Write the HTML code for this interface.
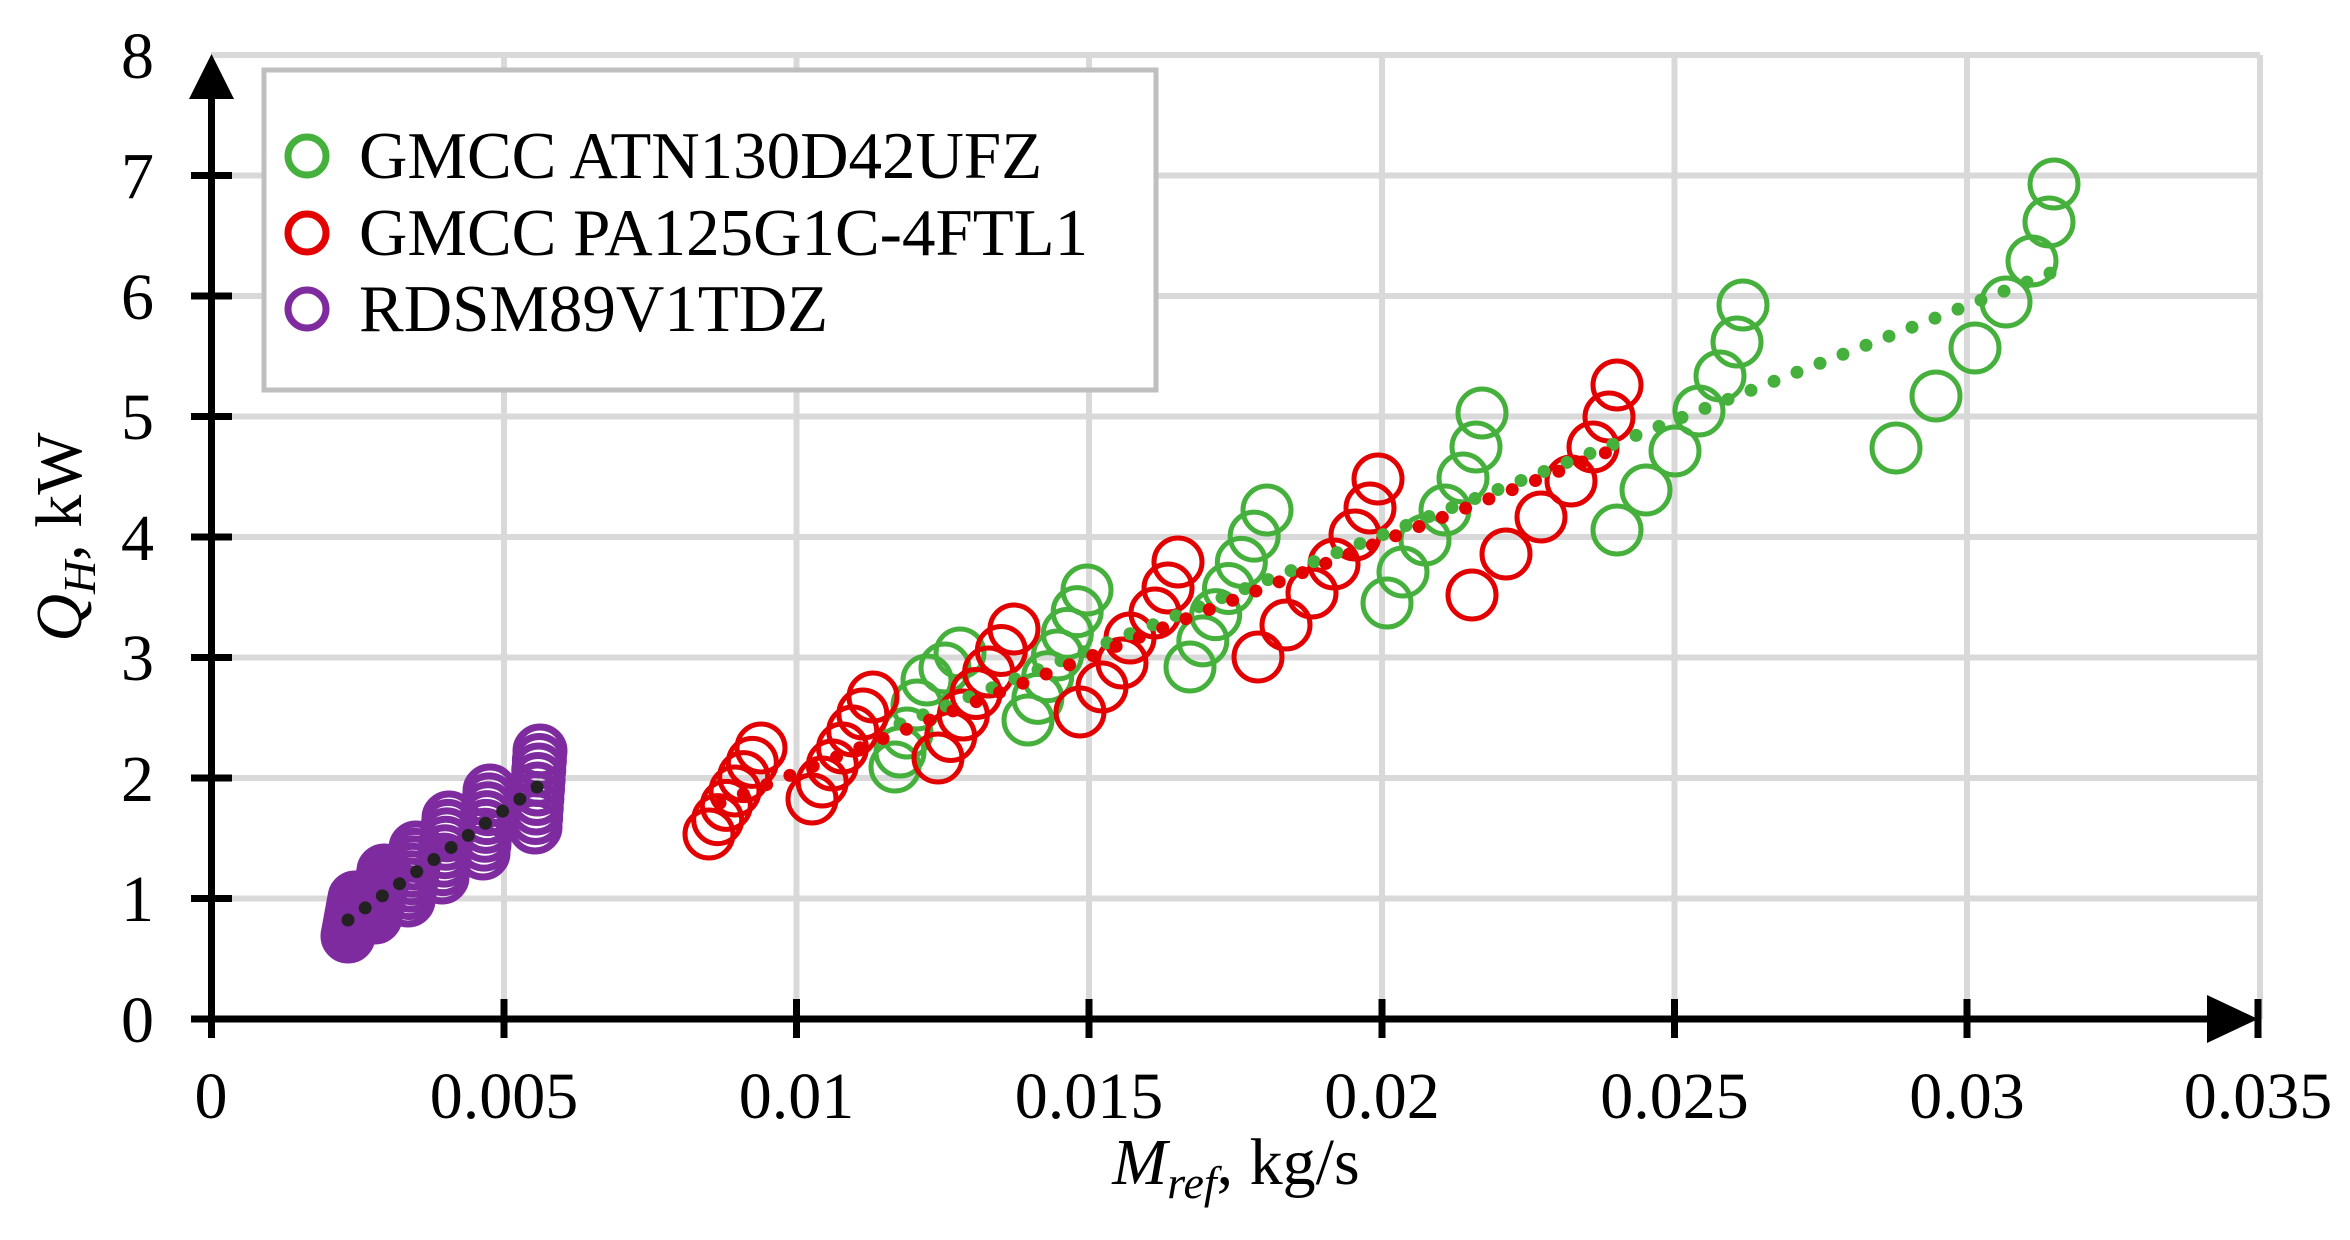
<!DOCTYPE html>
<html><head><meta charset="utf-8"><style>
html,body{margin:0;padding:0;background:#fff;}
svg{display:block;}
text{font-family:"Liberation Serif",serif;fill:#000;}
</style></head><body>
<svg id="s" width="2350" height="1240" viewBox="0 0 2350 1240" xmlns="http://www.w3.org/2000/svg">
<rect width="2350" height="1240" fill="#fff"/>
<g stroke="#d9d9d9" stroke-width="6" fill="none">
<line x1="211" y1="55" x2="2260" y2="55"/>
<line x1="211" y1="175.5" x2="2260" y2="175.5"/>
<line x1="211" y1="296" x2="2260" y2="296"/>
<line x1="211" y1="416.5" x2="2260" y2="416.5"/>
<line x1="211" y1="537" x2="2260" y2="537"/>
<line x1="211" y1="657.5" x2="2260" y2="657.5"/>
<line x1="211" y1="778" x2="2260" y2="778"/>
<line x1="211" y1="898.5" x2="2260" y2="898.5"/>
<line x1="504" y1="55" x2="504" y2="1019"/>
<line x1="796.5" y1="55" x2="796.5" y2="1019"/>
<line x1="1089" y1="55" x2="1089" y2="1019"/>
<line x1="1382" y1="55" x2="1382" y2="1019"/>
<line x1="1674.5" y1="55" x2="1674.5" y2="1019"/>
<line x1="1967" y1="55" x2="1967" y2="1019"/>
<line x1="2260" y1="55" x2="2260" y2="1019"/>
</g>
<g id="data"></g>
<rect x="264" y="70" width="892" height="320" fill="#fff" stroke="#bfbfbf" stroke-width="5"/>
<circle cx="307" cy="156" r="19" fill="none" stroke="#45B03C" stroke-width="7"/>
<circle cx="307" cy="233" r="19" fill="none" stroke="#E30000" stroke-width="7"/>
<circle cx="307" cy="309" r="19" fill="none" stroke="#7F2BA0" stroke-width="7"/>
<text x="359" y="178" font-size="67">GMCC ATN130D42UFZ</text>
<text x="359" y="255" font-size="67">GMCC PA125G1C-4FTL1</text>
<text x="359" y="331" font-size="67">RDSM89V1TDZ</text>
<g stroke="#000" stroke-width="7">
<line x1="211.5" y1="97" x2="211.5" y2="1038"/>
<line x1="191" y1="1019" x2="2215" y2="1019"/>
<line x1="191" y1="175.5" x2="232" y2="175.5"/>
<line x1="191" y1="296" x2="232" y2="296"/>
<line x1="191" y1="416.5" x2="232" y2="416.5"/>
<line x1="191" y1="537" x2="232" y2="537"/>
<line x1="191" y1="657.5" x2="232" y2="657.5"/>
<line x1="191" y1="778" x2="232" y2="778"/>
<line x1="191" y1="898.5" x2="232" y2="898.5"/>
<line x1="504" y1="999" x2="504" y2="1038"/>
<line x1="796.5" y1="999" x2="796.5" y2="1038"/>
<line x1="1089" y1="999" x2="1089" y2="1038"/>
<line x1="1382" y1="999" x2="1382" y2="1038"/>
<line x1="1674.5" y1="999" x2="1674.5" y2="1038"/>
<line x1="1967" y1="999" x2="1967" y2="1038"/>
<line x1="2258" y1="999" x2="2258" y2="1038"/>
</g>
<polygon points="189,99 234,99 211.5,54" fill="#000"/>
<polygon points="2207,995 2207,1043 2258,1019" fill="#000"/>
<g font-size="66" text-anchor="end">
<text x="154" y="1042">0</text>
<text x="154" y="921">1</text>
<text x="154" y="801">2</text>
<text x="154" y="680">3</text>
<text x="154" y="560">4</text>
<text x="154" y="439">5</text>
<text x="154" y="319">6</text>
<text x="154" y="198">7</text>
<text x="154" y="78">8</text>
</g>
<g font-size="66" text-anchor="middle">
<text x="211" y="1118">0</text>
<text x="504" y="1118">0.005</text>
<text x="796.5" y="1118">0.01</text>
<text x="1089" y="1118">0.015</text>
<text x="1382" y="1118">0.02</text>
<text x="1674.5" y="1118">0.025</text>
<text x="1967" y="1118">0.03</text>
<text x="2258" y="1118">0.035</text>
</g>
<text font-size="66" text-anchor="middle" transform="translate(81,537) rotate(-90)"><tspan font-style="italic">Q</tspan><tspan font-style="italic" font-size="46" dy="14">H</tspan><tspan dy="-14">, kW</tspan></text>
<text font-size="66" text-anchor="middle" x="1236" y="1184"><tspan font-style="italic">M</tspan><tspan font-style="italic" font-size="46" dy="14">ref</tspan><tspan dy="-14">, kg/s</tspan></text>
</svg>
<script>
var NS="http://www.w3.org/2000/svg",g=document.getElementById("data");
function c(x,y,r,col,sw,fill){var e=document.createElementNS(NS,"circle");e.setAttribute("cx",x);e.setAttribute("cy",y);e.setAttribute("r",r);
if(fill){e.setAttribute("fill",col);}else{e.setAttribute("fill","none");e.setAttribute("stroke",col);e.setAttribute("stroke-width",sw);}g.appendChild(e);}
function grp(a,b,n,col,sw){for(var i=0;i<n;i++){var t=i/(n-1);c(a[0]+(b[0]-a[0])*t,a[1]+(b[1]-a[1])*t,24,col,sw||5);}}
function pts(l,col){l.forEach(function(p){c(p[0],p[1],24,col,5);});}
var G="#45B03C",R="#E30000",P="#7F2BA0";
pts([[895,767],[900,752],[907,733],[917,705],[927,680],[945,668],[960,653]],G);
grp([1028,720],[1087,590],7,G);
grp([1190,667],[1267,510],7,G);
pts([[1387,603],[1403,572],[1425,540],[1445,510],[1463,478],[1476,447],[1482,413]],G);
pts([[1617,530],[1646,490],[1675,451],[1699,411],[1720,376],[1737,342],[1743,305]],G);
pts([[1896,448],[1936,396],[1975,348],[2006,302],[2032,261],[2049,222],[2054,184]],G);
grp([709,834],[761,748],7,R);
grp([812,799],[873,697],7,R);
grp([938,758],[1014,629],7,R);
pts([[1080,712],[1102,687],[1122,663],[1130,638],[1155,613],[1168,588],[1178,562]],R);
pts([[1258,657],[1286,625],[1312,593],[1334,564],[1355,535],[1370,508],[1378,479]],R);
pts([[1617,385],[1609,417],[1593,447],[1571,481],[1541,517],[1506,554],[1472,595]],R);
grp([348,936],[355,898],8,P,7);
grp([375,917],[384,871],8,P,7);
grp([408,900],[416,848],8,P,7);
grp([442,877],[449,818],8,P,7);
grp([483,853],[490,791],8,P,7);
grp([535,827],[540,751],9,P,7);
for(var x=900;x<=2052;x+=23){c(x,680-0.392*(x-1012),6.5,G,0,1);}
for(var x=720;x<=1616;x+=23.3){c(x,803-0.3955*(x-720),6.5,R,0,1);}
for(var i=0;i<12;i++){var x=348+i*(537-348)/11;c(x,920-(920-787)*i/11,6.5,"#222",0,1);}
</script>
</body></html>
